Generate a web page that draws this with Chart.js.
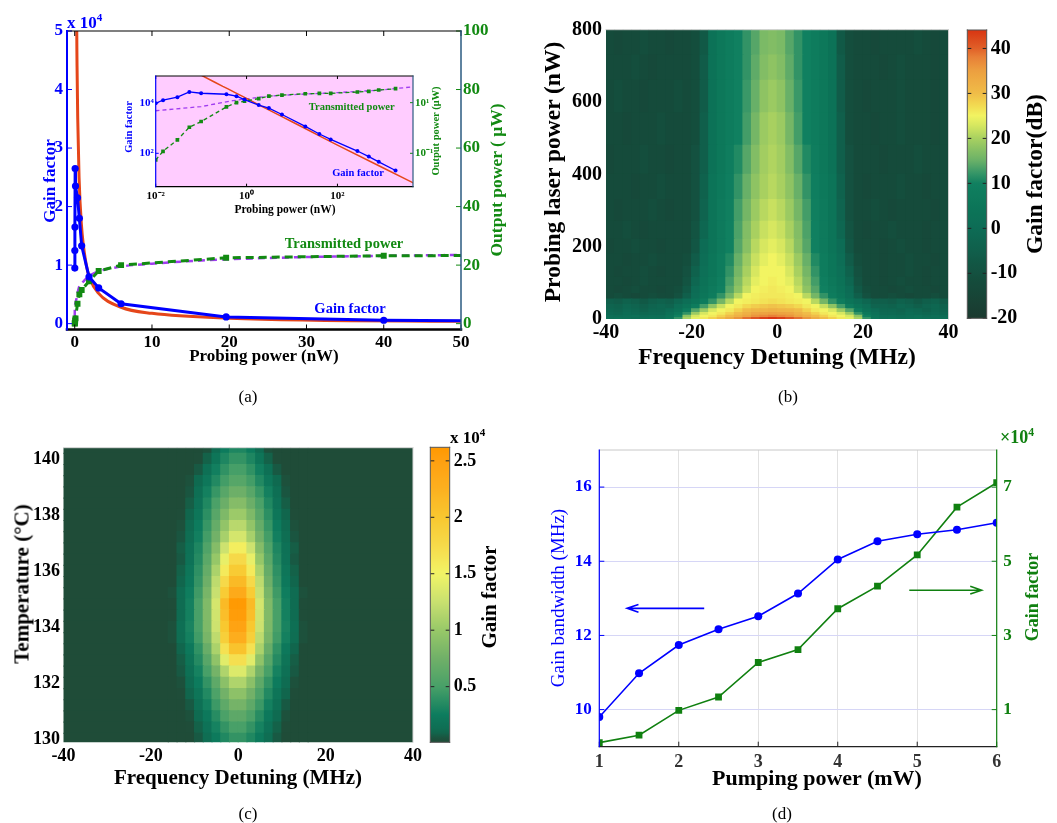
<!DOCTYPE html>
<html><head><meta charset="utf-8"><title>Gain characteristics</title>
<script src="https://cdn.jsdelivr.net/npm/chart.js@4.4.1/dist/chart.umd.min.js"></script>
<style>
html,body{margin:0;padding:0;background:#fff}
body{position:relative;width:1057px;height:823px;overflow:hidden;font-family:"Liberation Serif","Times New Roman",serif;color:#000}
canvas{position:absolute;display:block}
.t{position:absolute;white-space:nowrap;line-height:1;transform:translate(-50%,-50%)}
.r{position:absolute;white-space:nowrap;line-height:1;transform:translate(-50%,-50%) rotate(-90deg)}
.p{position:absolute;white-space:nowrap;line-height:1}
.b{font-weight:bold}
sup{font-size:65%;vertical-align:0;position:relative;top:-0.6em}
</style></head><body>
<canvas id="cA" width="530" height="372" style="left:0;top:0"></canvas>
<canvas id="cI" width="340" height="156" style="left:100px;top:64px"></canvas>
<canvas id="cB" width="433" height="345" style="left:530px;top:0"></canvas>
<canvas id="cBc" width="97" height="340" style="left:960px;top:0"></canvas>
<canvas id="cC" width="429" height="390" style="left:0;top:400px"></canvas>
<canvas id="cCc" width="90" height="390" style="left:425px;top:400px"></canvas>
<canvas id="cD" width="527" height="380" style="left:530px;top:400px"></canvas>

<!-- panel (a) texts -->
<div class="r b" style="left:48.5px;top:180.5px;font-size:17px;color:#0000ff">Gain factor</div>
<div class="r b" style="left:497px;top:180px;font-size:17.5px;color:#128a12">Output power ( μW)</div>
<div class="t b" style="left:264px;top:355px;font-size:17px">Probing power (nW)</div>
<div class="p b" style="left:67px;top:14px;font-size:17px;color:#0000ff">x 10<sup>4</sup></div>
<div class="t b" style="left:344px;top:243px;font-size:14.5px;color:#128a12">Transmitted power</div>
<div class="t b" style="left:350px;top:308px;font-size:14.5px;color:#0000ff">Gain factor</div>
<div class="r b" style="left:129px;top:127px;font-size:10.5px;color:#0000ff">Gain factor</div>
<div class="r b" style="left:436px;top:131px;font-size:10.5px;color:#128a12">Output power (μW)</div>
<div class="t b" style="left:285px;top:209.5px;font-size:11.5px">Probing power (nW)</div>
<div class="t b" style="left:351.7px;top:106.7px;font-size:10.5px;color:#128a12">Transmitted power</div>
<div class="t b" style="left:358px;top:172.7px;font-size:10.5px;color:#0000ff">Gain factor</div>
<div class="t" style="left:248px;top:396px;font-size:17px">(a)</div>
<!-- panel (b) texts -->
<div class="r b" style="left:553px;top:172px;font-size:23.5px">Probing laser power (nW)</div>
<div class="t b" style="left:777px;top:357px;font-size:23.5px">Frequency Detuning (MHz)</div>
<div class="r b" style="left:1035px;top:174px;font-size:23.5px">Gain factor(dB)</div>
<div class="t" style="left:788px;top:396px;font-size:17px">(b)</div>
<!-- panel (c) texts -->
<div class="r b" style="left:22px;top:584px;font-size:21px">Temperature (°C)</div>
<div class="t b" style="left:238px;top:777px;font-size:21px">Frequency Detuning (MHz)</div>
<div class="r b" style="left:489px;top:597px;font-size:21px">Gain factor</div>
<div class="p b" style="left:450px;top:429px;font-size:17px">x 10<sup>4</sup></div>
<div class="t" style="left:248px;top:813px;font-size:17px">(c)</div>
<!-- panel (d) texts -->
<div class="r" style="left:557px;top:597.5px;font-size:19px;color:#0000ff">Gain bandwidth (MHz)</div>
<div class="r b" style="left:1032px;top:597px;font-size:18px;color:#108010">Gain factor</div>
<div class="t b" style="left:817px;top:778px;font-size:22px">Pumping power (mW)</div>
<div class="p b" style="left:1000px;top:428px;font-size:18px;color:#108010">×10<sup>4</sup></div>
<div class="t" style="left:782px;top:813px;font-size:17px">(d)</div>

<script>
// ===================== DATA =====================
// Panel (a): probing power (nW), gain factor, transmitted power (µW)
const probeP = [0.01, 0.0145, 0.03, 0.055, 0.1, 0.36, 0.6, 0.9, 1.85, 3.1, 6, 19.6, 40, 71, 275, 490, 810, 1900];
const gainA  = [9500, 12500, 16500, 26500, 23500, 21500, 18000, 13300, 8000, 6100, 3400, 1150, 580, 355, 123, 74, 46, 21];
const transA = [0.055, 0.12, 0.34, 1.07, 1.8, 6.8, 10, 11.5, 14.5, 18, 20, 22.5, 23.2, 23.4, 26.3, 28, 31.6, 35.6];
// fitted gain curve (red) and fitted transmitted power (purple dashed)
const fitX = [0.1, 0.2, 0.3, 0.39, 0.56, 0.86, 1.5, 1.94, 3, 6, 10, 20, 50, 100, 1000, 5000];
const fitG = [122000, 64000, 44000, 35000, 25000, 17000, 10000, 7800, 5300, 2800, 1760, 930, 400, 210, 27, 6.4];
const pfX  = [0.0001, 0.01, 0.1, 0.5, 1, 2, 3, 6, 10, 20, 50, 100, 1000, 5000];
const pfY  = [2.3, 4.8, 7, 12, 14, 16.5, 17.8, 19.5, 20.5, 22, 23.5, 25, 32, 43];
const aXTicks = [0, 10, 20, 30, 40, 50];
const aYTicks = [0, 10000, 20000, 30000, 40000, 50000];
const aY2Ticks = [0, 20, 40, 60, 80, 100];
const inXTicks = [0.01, 1, 100];
const inYTicks = [100, 10000];
const inY2Ticks = [0.1, 10];

// Panel (b): gain (dB) vs detuning (MHz, column centres) and probing power (nW, row edges)
const detB = [-39,-37,-35,-33,-31,-29,-27,-25,-23,-21,-19,-17,-15,-13,-11,-9,-7,-5,-3,-1,1,3,5,7,9,11,13,15,17,19,21,23,25,27,29,31,33,35,37,39];
const powEdges = [0,4,10,18,28,40,55,70,90,115,145,180,220,270,330,400,480,570,660,730,800];
const gainB = [
 [2,3,2,1,2,3,2,5,12,20,24,26,28,30,33,36,39,41,43,44,43,41,39,36,33,30,28,26,24,20,12,5,2,3,1,2,3,2,1,2],
 [1,0,1,2,0,1,1,4,10,18,23,25,26,28,30,32,34,36,37,38,37,36,34,32,30,28,26,25,23,18,10,4,1,1,0,1,2,0,1,0],
 [-1,-2,0,-1,-2,-1,-1,2,6,12,19,23,25,26,28,30,32,34,34.5,35,34.5,34,32,30,28,26,25,23,19,12,6,2,-1,-1,-2,0,-1,-2,-1,-2],
 [-2,-3,-1,-2,-4,-2,-2,0,3,8,14,19,23,25,26,28,30,31,31.5,32,31.5,31,30,28,26,25,23,19,14,8,3,0,-2,-2,-3,-1,-2,-4,-2,-3],
 [-3,-4,-2,-3,-5,-3,-2,-3,1,4,8,13,18,22,25,26,27.5,28.5,29,29.5,29,28.5,27.5,26,25,22,18,13,8,4,1,-3,-3,-4,-2,-3,-5,-3,-2,-4],
 [-5,-6,-4,-5,-7,-5,-4,-5,-2,1,4,8,12,16,21,25,25.5,26,26.5,27,26.5,26,25.5,25,21,16,12,8,4,1,-2,-5,-5,-6,-4,-5,-7,-5,-4,-6],
 [-12,-11,-12,-13,-12,-11,-12,-12,-10,-5,1,5,8,12,16,21,25,25.5,26,26,26,25.5,25,21,16,12,8,5,1,-5,-10,-12,-12,-11,-12,-13,-12,-12,-11,-12],
 [-12,-13,-12,-11,-12,-12,-13,-12,-11,-7,0,4,7,10,14,18,22,25,25.5,26,25.5,25,22,18,14,10,7,4,0,-7,-11,-12,-12,-13,-12,-11,-12,-12,-13,-12],
 [-12,-12,-13,-12,-11,-12,-12,-12,-12,-9,-2,3,6,9,13,17,21,24,25,25.5,25,24,21,17,13,9,6,3,-2,-9,-12,-12,-13,-12,-11,-12,-12,-13,-12,-12],
 [-12,-13,-12,-12,-11,-12,-13,-12,-12,-10,-4,2,5,8,12,16,20,23,25,25,25,23,20,16,12,8,5,2,-4,-10,-12,-12,-13,-12,-12,-11,-12,-13,-12,-12],
 [-12,-12,-13,-12,-12,-11,-12,-12,-12,-11,-6,1,5,8,11,15,19,22,24,25,24,22,19,15,11,8,5,1,-6,-11,-12,-12,-13,-12,-12,-11,-12,-12,-13,-12],
 [-13,-12,-12,-11,-12,-12,-13,-12,-12,-12,-8,0,4,7,10,14,17.5,21,23,24,23,21,17.5,14,10,7,4,0,-8,-12,-12,-12,-13,-12,-11,-12,-12,-13,-12,-12],
 [-12,-12,-11,-12,-13,-12,-12,-12,-12,-12,-9,-2,4,7,10,13.5,17,20,22,23,22,20,17,13.5,10,7,4,-2,-9,-12,-13,-12,-12,-11,-12,-12,-12,-13,-12,-12],
 [-12,-13,-12,-12,-12,-11,-12,-13,-12,-12,-10,-3,4,7,9.5,13,16,19,21,22,21,19,16,13,9.5,7,4,-3,-10,-12,-12,-11,-12,-13,-12,-12,-12,-12,-13,-12],
 [-12,-12,-12,-13,-12,-12,-11,-12,-12,-12,-10,-4,4,6.5,9,12,15,18,20,21,20,18,15,12,9,6.5,4,-4,-10,-12,-13,-12,-12,-12,-11,-12,-12,-13,-12,-12],
 [-13,-12,-12,-12,-11,-12,-12,-13,-12,-12,-10,-5,3,6,8.5,11,14,17,19.5,20.5,19.5,17,14,11,8.5,6,3,-5,-10,-12,-12,-12,-13,-12,-12,-12,-11,-12,-12,-12],
 [-12,-12,-13,-12,-12,-12,-11,-12,-12,-12,-11,-5,3,6,8,10,13,16,19,20,19,16,13,10,8,6,3,-5,-11,-12,-12,-13,-12,-12,-11,-12,-12,-12,-13,-12],
 [-12,-11,-12,-12,-13,-12,-12,-12,-11,-12,-11,-6,3,6,8,10,12.5,15,18,19,18,15,12.5,10,8,6,3,-6,-11,-12,-13,-12,-12,-12,-11,-12,-12,-12,-13,-12],
 [-12,-12,-12,-11,-12,-13,-12,-12,-12,-12,-11,-6,3,6,8,10,12,14.5,17,18,17,14.5,12,10,8,6,3,-6,-11,-12,-12,-12,-13,-12,-11,-12,-12,-12,-13,-12],
 [-12,-13,-12,-12,-11,-12,-12,-13,-12,-12,-11,-7,3,6,8,10,12,14,16.5,17,16.5,14,12,10,8,6,3,-7,-11,-12,-12,-13,-12,-12,-12,-12,-11,-12,-13,-12]
];
const bXTicks = [-40, -20, 0, 20, 40];
const bYTicks = [0, 200, 400, 600, 800];
const bCbTicks = [-20, -10, 0, 10, 20, 30, 40];

// Panel (c): gain (x10^4) vs detuning (MHz, cell edges) and temperature (°C, row centres)
const detEdgesC = [-40,-16,-14,-12,-10,-8,-6,-4,-2,0,2,4,6,8,10,12,14,16,40];
const tempC = [130,130.4,130.8,131.2,131.6,132,132.4,132.8,133.2,133.6,134,134.4,134.8,135.2,135.6,136,136.4,136.8,137.2,137.6,138,138.4,138.8,139.2,139.6,140,140.4];
const gainC = [
 [.02,.02,.02,.02,.06,.13,.23,.33,.41,.41,.33,.23,.13,.06,.02,.02,.02,.02],
 [.02,.02,.02,.03,.08,.17,.29,.41,.5,.5,.41,.29,.17,.08,.03,.02,.02,.02],
 [.02,.02,.02,.04,.11,.22,.36,.52,.63,.63,.52,.36,.22,.11,.04,.02,.02,.02],
 [.02,.02,.02,.06,.15,.28,.45,.64,.78,.78,.64,.45,.28,.15,.06,.02,.02,.02],
 [.02,.02,.03,.09,.19,.34,.53,.76,.93,.93,.76,.53,.34,.19,.09,.03,.02,.02],
 [.02,.02,.04,.12,.24,.41,.64,.92,1.12,1.12,.92,.64,.41,.24,.12,.04,.02,.02],
 [.02,.02,.06,.15,.29,.5,.78,1.12,1.37,1.37,1.12,.78,.5,.29,.15,.06,.02,.02],
 [.02,.02,.07,.18,.35,.6,.95,1.4,1.7,1.7,1.4,.95,.6,.35,.18,.07,.02,.02],
 [.02,.02,.09,.22,.4,.7,1.1,1.68,2.05,2.05,1.68,1.1,.7,.4,.22,.09,.02,.02],
 [.02,.04,.13,.28,.47,.8,1.2,1.9,2.3,2.3,1.9,1.2,.8,.47,.28,.13,.04,.02],
 [.02,.04,.14,.3,.5,.84,1.28,2.0,2.45,2.45,2.0,1.28,.84,.5,.3,.14,.04,.02],
 [.02,.03,.12,.28,.5,.85,1.3,2.1,2.55,2.55,2.1,1.3,.85,.5,.28,.12,.03,.02],
 [.02,.03,.12,.28,.5,.85,1.32,2.15,2.6,2.6,2.15,1.32,.85,.5,.28,.12,.03,.02],
 [.02,.04,.12,.26,.46,.8,1.25,1.95,2.35,2.35,1.95,1.25,.8,.46,.26,.12,.04,.02],
 [.02,.02,.09,.22,.42,.74,1.2,1.76,2.15,2.15,1.76,1.2,.74,.42,.22,.09,.02,.02],
 [.02,.02,.08,.2,.39,.68,1.1,1.6,1.96,1.96,1.6,1.1,.68,.39,.2,.08,.02,.02],
 [.02,.02,.06,.17,.35,.62,.99,1.44,1.76,1.76,1.44,.99,.62,.35,.17,.06,.02,.02],
 [.02,.02,.07,.16,.32,.55,.88,1.28,1.56,1.56,1.28,.88,.55,.32,.16,.07,.02,.02],
 [.02,.02,.05,.13,.27,.48,.76,1.08,1.32,1.32,1.08,.76,.48,.27,.13,.05,.02,.02],
 [.02,.02,.04,.11,.24,.43,.68,.96,1.17,1.17,.96,.68,.43,.24,.11,.04,.02,.02],
 [.02,.02,.03,.09,.2,.38,.6,.84,1.02,1.02,.84,.6,.38,.2,.09,.03,.02,.02],
 [.02,.02,.02,.07,.17,.33,.52,.72,.88,.88,.72,.52,.33,.17,.07,.02,.02,.02],
 [.02,.02,.02,.05,.14,.28,.43,.6,.73,.73,.6,.43,.28,.14,.05,.02,.02,.02],
 [.02,.02,.02,.04,.1,.21,.34,.48,.59,.59,.48,.34,.21,.1,.04,.02,.02,.02],
 [.02,.02,.02,.02,.06,.15,.27,.4,.49,.49,.4,.27,.15,.06,.02,.02,.02,.02],
 [.02,.02,.02,.02,.03,.08,.19,.32,.41,.41,.32,.19,.08,.03,.02,.02,.02,.02],
 [.02,.02,.02,.02,.02,.04,.12,.24,.32,.32,.24,.12,.04,.02,.02,.02,.02,.02]
];
const cYTicks = [130, 132, 134, 136, 138, 140];
const cCbTicks = [0.5, 1, 1.5, 2, 2.5];

// Panel (d): pumping power (mW), gain bandwidth (MHz), gain factor (x10^4)
const pumpD = [1, 1.5, 2, 2.5, 3, 3.5, 4, 4.5, 5, 5.5, 6];
const bwD   = [9.8, 10.98, 11.74, 12.17, 12.52, 13.13, 14.05, 14.54, 14.73, 14.85, 15.04];
const gfD   = [0.11, 0.31, 0.98, 1.34, 2.27, 2.62, 3.72, 4.33, 5.17, 6.46, 7.12];
const dXTicks = [1, 2, 3, 4, 5, 6];
const dYTicks = [10, 12, 14, 16];
const dY2Ticks = [1, 3, 5, 7];

// ===================== STYLE / HELPERS =====================
const BLUE = '#0000ff', GREEN = '#128a12', DGREEN = '#108010', RED = '#e5461a', PURPLE = '#a03cf0';
Chart.defaults.font.family = '"Liberation Serif","Times New Roman",serif';
Chart.defaults.color = '#000';
Chart.defaults.animation = false;
Chart.defaults.responsive = false;
Chart.defaults.events = [];
Chart.defaults.plugins.legend.display = false;
Chart.defaults.plugins.tooltip.enabled = false;

const pts = (xs, ys) => xs.map((x, i) => ({x, y: ys[i]}));
const at = vals => s => { s.ticks = vals.map(v => ({value: v})); };
const W = w => s => { s.width = w; };
const H = h => s => { s.height = h; };
const F = (size, weight) => ({size, weight: weight || 'bold'});
const SUP = {'-':'⁻','0':'⁰','1':'¹','2':'²','3':'³','4':'⁴','5':'⁵','6':'⁶','7':'⁷','8':'⁸','9':'⁹'};
const p10 = v => '10' + String(Math.round(Math.log10(v))).split('').map(c => SUP[c]).join('');
const axis = o => Object.assign({grid: {display: false, drawTicks: false}, border: {display: false}}, o);

function cmap(stops) {
  const s = stops.map(([v, h]) => [v, parseInt(h.substr(1, 2), 16), parseInt(h.substr(3, 2), 16), parseInt(h.substr(5, 2), 16)]);
  return v => {
    let i = 1;
    while (i < s.length - 1 && v > s[i][0]) i++;
    const a = s[i - 1], b = s[i];
    let t = (v - a[0]) / (b[0] - a[0]);
    t = Math.max(0, Math.min(1, t));
    return 'rgb(' + [1, 2, 3].map(k => Math.round(a[k] + t * (b[k] - a[k]))).join(',') + ')';
  };
}
const cmB = cmap([[-20,'#1b3a2f'],[-12,'#154b3b'],[-5,'#105f4b'],[0,'#0d6c55'],[5,'#0c7659'],[10,'#108060'],[12.5,'#3a9868'],[15,'#68b068'],[17.5,'#88c064'],[20,'#a8d060'],[22.5,'#d0e460'],[25,'#f2f462'],[27.5,'#f2d850'],[30,'#f0bc48'],[35,'#eca040'],[38,'#e88038'],[40,'#e06028'],[44.5,'#d83010']]);
const cmC = cmap([[0,'#1f4a37'],[0.03,'#1f4d39'],[0.1,'#0f6a50'],[0.25,'#0d7c5e'],[0.5,'#48a068'],[0.75,'#70b068'],[1,'#98c868'],[1.25,'#c8e070'],[1.5,'#f2f466'],[1.75,'#f6da4a'],[2,'#f8c830'],[2.25,'#fcb020'],[2.5,'#ffa010'],[2.62,'#ff9900']]);

// ===================== PLUGINS =====================
const framePlugin = {id: 'frame', afterDatasetsDraw(chart, args, o) {
  if (!o) return;
  const ctx = chart.ctx, a = chart.chartArea;
  ctx.save();
  const ln = (x1, y1, x2, y2, c, w) => { ctx.strokeStyle = c; ctx.lineWidth = w; ctx.beginPath(); ctx.moveTo(x1, y1); ctx.lineTo(x2, y2); ctx.stroke(); };
  (o.ticks || []).forEach(t => {
    const sc = chart.scales[t.axis]; if (!sc) return;
    sc.ticks.forEach(tk => {
      const p = sc.getPixelForValue(tk.value);
      t.sides.forEach(sd => {
        if (sd === 'bottom') ln(p, a.bottom, p, a.bottom - t.len, t.color, 1);
        else if (sd === 'top') ln(p, a.top, p, a.top + t.len, t.color, 1);
        else if (sd === 'left') ln(a.left, p, a.left + t.len, p, t.color, 1);
        else ln(a.right, p, a.right - t.len, p, t.color, 1);
      });
    });
  });
  ctx.lineCap = 'square';
  const s = o.sides || {};
  if (s.top) ln(a.left, a.top, a.right, a.top, s.top[0], s.top[1]);
  if (s.bottom) ln(a.left, a.bottom, a.right, a.bottom, s.bottom[0], s.bottom[1]);
  if (s.left) ln(a.left, a.top, a.left, a.bottom, s.left[0], s.left[1]);
  if (s.right) ln(a.right, a.top, a.right, a.bottom, s.right[0], s.right[1]);
  ctx.restore();
}};
const bgPlugin = {id: 'bg', beforeDatasetsDraw(chart, args, o) {
  if (!o || !o.color) return;
  const a = chart.chartArea; chart.ctx.save(); chart.ctx.fillStyle = o.color;
  chart.ctx.fillRect(a.left, a.top, a.width, a.height); chart.ctx.restore();
}};
const cbarPlugin = {id: 'cbar', beforeDatasetsDraw(chart, args, o) {
  if (!o || !o.map) return;
  const ctx = chart.ctx, a = chart.chartArea, sc = chart.scales.y;
  const g = ctx.createLinearGradient(0, a.bottom, 0, a.top);
  for (let i = 0; i <= 64; i++) g.addColorStop(i / 64, o.map(sc.min + (sc.max - sc.min) * i / 64));
  ctx.save(); ctx.fillStyle = g; ctx.fillRect(a.left, a.top, a.width, a.height); ctx.restore();
}};
const arrowPlugin = {id: 'arrows', afterDatasetsDraw(chart, args, o) {
  if (!o || !o.list) return;
  const ctx = chart.ctx, xs = chart.scales.x;
  o.list.forEach(ar => {
    const ys = chart.scales[ar.axis];
    const x0 = xs.getPixelForValue(ar.from[0]), y0 = ys.getPixelForValue(ar.from[1]);
    const x1 = xs.getPixelForValue(ar.to[0]), y1 = ys.getPixelForValue(ar.to[1]);
    const ang = Math.atan2(y1 - y0, x1 - x0), L = 12;
    ctx.save(); ctx.strokeStyle = ar.color; ctx.lineWidth = 1.6;
    ctx.beginPath(); ctx.moveTo(x0, y0); ctx.lineTo(x1, y1);
    ctx.moveTo(x1 - L * Math.cos(ang - 0.33), y1 - L * Math.sin(ang - 0.33)); ctx.lineTo(x1, y1);
    ctx.lineTo(x1 - L * Math.cos(ang + 0.33), y1 - L * Math.sin(ang + 0.33));
    ctx.stroke(); ctx.restore();
  });
}};
Chart.register(framePlugin, bgPlugin, cbarPlugin, arrowPlugin);

// ===================== PANEL (a) main =====================
new Chart(document.getElementById('cA'), {
  type: 'scatter',
  data: {datasets: [
    {data: pts(probeP, gainA), showLine: true, borderColor: BLUE, backgroundColor: BLUE, borderWidth: 3, pointRadius: 3.6, pointBorderWidth: 0, yAxisID: 'y'},
    {data: pts(probeP, transA), showLine: true, borderColor: GREEN, backgroundColor: GREEN, borderWidth: 3, borderDash: [8, 5], pointStyle: 'rect', pointRadius: 4.2, pointBorderWidth: 0, yAxisID: 'y2'},
    {data: pts(fitX, fitG), showLine: true, borderColor: RED, borderWidth: 3, pointRadius: 0, cubicInterpolationMode: 'monotone', yAxisID: 'y'},
    {data: pts(pfX, pfY), showLine: true, borderColor: PURPLE, borderWidth: 2.5, borderDash: [7, 5], pointRadius: 0, cubicInterpolationMode: 'monotone', yAxisID: 'y2'}
  ]},
  options: {
    layout: {padding: {top: 31, left: 0, right: 0, bottom: 0}},
    scales: {
      x: axis({type: 'linear', min: -1, max: 50, afterBuildTicks: at(aXTicks), afterFit: H(42.5), ticks: {padding: 3, color: '#000', font: F(17)}}),
      y: axis({type: 'linear', position: 'left', min: -1000, max: 50000, afterBuildTicks: at(aYTicks), afterFit: W(67), ticks: {padding: 4, color: BLUE, font: F(17), callback: v => String(v / 1e4)}}),
      y2: axis({type: 'linear', position: 'right', min: -2, max: 100, afterBuildTicks: at(aY2Ticks), afterFit: W(69), ticks: {padding: 2, color: GREEN, font: F(17)}})
    },
    plugins: {frame: {sides: {top: ['#000', 1.2], bottom: ['#000', 2.5], left: [BLUE, 2], right: ['#2a5a80', 1.5]},
      ticks: [{axis: 'x', sides: ['bottom', 'top'], len: 5, color: '#000'}, {axis: 'y', sides: ['left'], len: 5, color: BLUE}, {axis: 'y2', sides: ['right'], len: 5, color: GREEN}]}}
  }
});

// ===================== PANEL (a) inset =====================
new Chart(document.getElementById('cI'), {
  type: 'scatter',
  data: {datasets: [
    {data: pts(probeP, gainA), showLine: true, borderColor: BLUE, backgroundColor: BLUE, borderWidth: 1.3, pointRadius: 2, pointBorderWidth: 0, yAxisID: 'y'},
    {data: pts(probeP, transA), showLine: true, borderColor: GREEN, backgroundColor: GREEN, borderWidth: 1.3, borderDash: [4, 3], pointStyle: 'rect', pointRadius: 2.6, pointBorderWidth: 0, yAxisID: 'y2'},
    {data: pts(fitX, fitG), showLine: true, borderColor: RED, borderWidth: 1.5, pointRadius: 0, yAxisID: 'y'},
    {data: pts(pfX, pfY), showLine: true, borderColor: PURPLE, borderWidth: 1.3, borderDash: [4, 3], pointRadius: 0, yAxisID: 'y2'}
  ]},
  options: {
    layout: {padding: {top: 12, left: 0, right: 0, bottom: 0}},
    scales: {
      x: axis({type: 'logarithmic', min: 0.01, max: 4600, afterBuildTicks: at(inXTicks), afterFit: H(33.3), ticks: {padding: 3, color: '#000', font: F(11), callback: v => p10(v)}}),
      y: axis({type: 'logarithmic', position: 'left', min: 4.8, max: 113000, afterBuildTicks: at(inYTicks), afterFit: W(55.7), ticks: {padding: 2, color: BLUE, font: F(11), callback: v => p10(v)}}),
      y2: axis({type: 'logarithmic', position: 'right', min: 0.0048, max: 113, afterBuildTicks: at(inY2Ticks), afterFit: W(27), ticks: {padding: 2, color: GREEN, font: F(11), callback: v => p10(v)}})
    },
    plugins: {bg: {color: '#ffccff'}, frame: {sides: {top: ['#000', 1], bottom: ['#000', 1.2], left: [BLUE, 1.2], right: ['#2a5a80', 1.2]},
      ticks: [{axis: 'x', sides: ['bottom', 'top'], len: 3, color: '#000'}, {axis: 'y', sides: ['left'], len: 3, color: BLUE}, {axis: 'y2', sides: ['right'], len: 3, color: GREEN}]}}
  }
});

// ===================== PANEL (b) heat map =====================
new Chart(document.getElementById('cB'), {
  type: 'bar',
  data: {datasets: gainB.map((row, i) => ({
    data: row.map((v, j) => ({x: detB[j], y: [powEdges[i], powEdges[i + 1]]})),
    backgroundColor: row.map(cmB), grouped: false, barPercentage: 1, categoryPercentage: 1, borderWidth: 0, inflateAmount: 0.6, clip: 0
  }))},
  options: {
    layout: {padding: {top: 29.7, left: 0, right: 14.5, bottom: 0}},
    scales: {
      x: axis({type: 'linear', offset: false, min: -40, max: 40, afterBuildTicks: at(bXTicks), afterFit: H(26), ticks: {padding: 2, font: F(20)}}),
      y: axis({type: 'linear', min: 0, max: 800, afterBuildTicks: at(bYTicks), afterFit: W(76), ticks: {padding: 4, font: F(20)}})
    },
    plugins: {frame: {sides: {top: ['#cfcfcf', 1], right: ['#cfcfcf', 1]}}}
  }
});
function colorbar(id, lo, hi, ticks, map, pad, w, fs) {
  new Chart(document.getElementById(id), {
    type: 'scatter', data: {datasets: []},
    options: {
      layout: {padding: pad},
      scales: {
        x: {display: false, min: 0, max: 1},
        y: axis({type: 'linear', position: 'right', min: lo, max: hi, afterBuildTicks: at(ticks), afterFit: W(w), ticks: {padding: 4, font: F(fs), callback: v => String(v)}})
      },
      plugins: {cbar: {map}, frame: {sides: {top: ['#555', 1], bottom: ['#555', 1], left: ['#555', 1], right: ['#555', 1]},
        ticks: [{axis: 'y', sides: ['left', 'right'], len: 4, color: '#222'}]}}
    }
  });
}
colorbar('cBc', -20, 44.1, bCbTicks, cmB, {top: 30, left: 7.3, right: 0, bottom: 21.7}, 70.3, 20);

// ===================== PANEL (c) heat map =====================
new Chart(document.getElementById('cC'), {
  type: 'bar',
  data: {datasets: gainC.map((row, i) => ({
    data: row.map((v, j) => ({y: tempC[i], x: [detEdgesC[j], detEdgesC[j + 1]]})),
    backgroundColor: row.map(cmC), grouped: false, barPercentage: 1, categoryPercentage: 1, borderWidth: 0, inflateAmount: 0.6, clip: 0
  }))},
  options: {
    indexAxis: 'y',
    layout: {padding: {top: 47.7, left: 0, right: 16, bottom: 0}},
    scales: {
      x: axis({type: 'linear', min: -40, max: 40, afterBuildTicks: at(bXTicks), afterFit: H(47.7), ticks: {padding: 3.6, font: F(18)}}),
      y: axis({type: 'linear', offset: false, min: 129.88, max: 140.4, afterBuildTicks: at(cYTicks), afterFit: W(63.5), ticks: {padding: 3.5, font: F(18)}})
    },
    plugins: {frame: {sides: {top: ['#d8d8d8', 1], right: ['#d8d8d8', 1]}}}
  }
});
colorbar('cCc', 0.007, 2.62, cCbTicks, cmC, {top: 47.3, left: 5.3, right: 0, bottom: 47.7}, 65.3, 18);

// ===================== PANEL (d) =====================
new Chart(document.getElementById('cD'), {
  type: 'scatter',
  data: {datasets: [
    {data: pts(pumpD, bwD), showLine: true, borderColor: BLUE, backgroundColor: BLUE, borderWidth: 1.6, pointRadius: 4, pointBorderWidth: 0, yAxisID: 'y'},
    {data: pts(pumpD, gfD), showLine: true, borderColor: DGREEN, backgroundColor: DGREEN, borderWidth: 1.6, pointStyle: 'rect', pointRadius: 4.8, pointBorderWidth: 0, yAxisID: 'y2'}
  ]},
  options: {
    layout: {padding: {top: 50, left: 0, right: 0, bottom: 0}},
    scales: {
      x: {type: 'linear', min: 1, max: 6, afterBuildTicks: at(dXTicks), afterFit: H(33.3), grid: {display: true, color: '#e2e2e2', drawTicks: false}, border: {display: false}, ticks: {padding: 5.2, color: '#333', font: F(18)}},
      y: {type: 'linear', position: 'left', min: 9, max: 17, afterBuildTicks: at(dYTicks), afterFit: W(69.3), grid: {display: true, color: '#d6d6f6', drawTicks: false}, border: {display: false}, ticks: {padding: 7.6, color: BLUE, font: F(17)}},
      y2: axis({type: 'linear', position: 'right', min: 0, max: 8, afterBuildTicks: at(dY2Ticks), afterFit: W(60.3), ticks: {padding: 6.6, color: DGREEN, font: F(17)}})
    },
    plugins: {
      frame: {sides: {top: ['#c8c8c8', 1], bottom: ['#222', 1.2], left: [BLUE, 1.2], right: [DGREEN, 1.2]},
        ticks: [{axis: 'x', sides: ['bottom'], len: 5, color: '#222'}, {axis: 'y', sides: ['left'], len: 5, color: BLUE}, {axis: 'y2', sides: ['right'], len: 5, color: DGREEN}]},
      arrows: {list: [{from: [2.32, 12.73], to: [1.35, 12.73], axis: 'y', color: BLUE}, {from: [4.9, 13.22], to: [5.81, 13.22], axis: 'y', color: DGREEN}]}
    }
  }
});
</script>
</body></html>
